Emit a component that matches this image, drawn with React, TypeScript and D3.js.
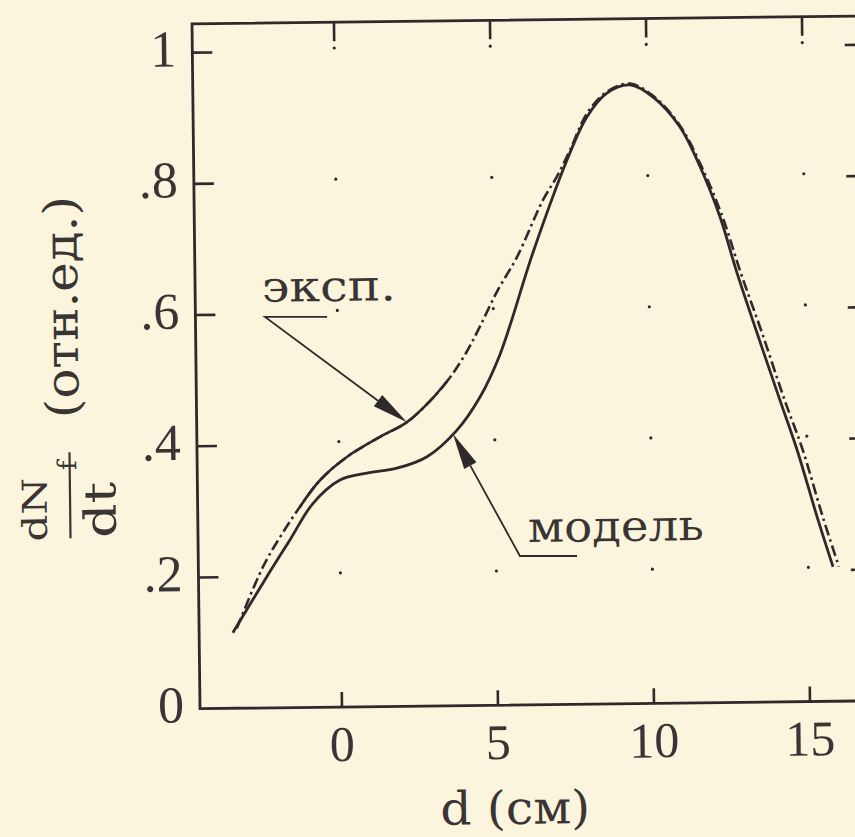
import React, { useEffect, useRef } from 'react';
import * as d3 from 'd3';

// axis ticks
const xTicks = [0, 5, 10, 15];
const xTickLabels = ['0', '5', '10', '15'];
const yTicks = [0.2, 0.4, 0.6, 0.8, 1];
const yTickLabels = ['.2', '.4', '.6', '.8', '1'];

// "эксп." curve (dash-dot, drawn solid in the middle part)
const expX = [-3.34, -2.48, -1.92, -1.27, -0.62, 0.25, 1.32, 2.19, 2.94, 3.58, 4.14, 4.57, 5.12, 5.78, 6.63, 7.09, 7.52, 8.07, 8.72, 9.46, 10.2, 11.05, 11.72, 12.38, 12.94, 13.6, 14.3, 14.86, 15.48, 15.98];
const expY = [0.122, 0.215, 0.26, 0.306, 0.346, 0.381, 0.411, 0.433, 0.465, 0.5, 0.54, 0.578, 0.63, 0.683, 0.769, 0.805, 0.845, 0.9, 0.933, 0.945, 0.926, 0.88, 0.818, 0.74, 0.655, 0.563, 0.46, 0.384, 0.281, 0.205];

// "модель" curve (solid)
const modelX = [-3.47, -2.36, -1.6, -0.85, 0.02, 0.89, 1.85, 2.82, 3.79, 4.54, 5.2, 6.29, 7.42, 8.07, 8.72, 9.46, 10.2, 11.05, 11.68, 12.3, 12.82, 13.44, 14.15, 14.68, 15.3, 15.79];
const modelY = [0.115, 0.2, 0.256, 0.311, 0.346, 0.356, 0.363, 0.38, 0.42, 0.47, 0.535, 0.689, 0.83, 0.895, 0.931, 0.943, 0.924, 0.878, 0.817, 0.74, 0.655, 0.563, 0.46, 0.384, 0.281, 0.205];

const W = 855;
const H = 837;
const ink = '#2e2a2c';
const textInk = '#3a3535';

export default function App() {
  const ref = useRef<SVGSVGElement>(null);

  useEffect(() => {
    const svg = d3.select(ref.current);
    svg.selectAll('*').remove();
    svg.attr('width', W).attr('height', H);

    svg.append('rect').attr('width', W).attr('height', H).attr('fill', '#faf5dc');

    // the scanned page is slightly tilted
    const g = svg.append('g').attr('transform', 'rotate(-0.67, 342, 707)');

    const x = d3.scaleLinear().domain([-4.55, 17]).range([200, 872.4]);
    const y = d3.scaleLinear().domain([0, 1.044]).range([707, 22.1]);

    const [x0, x1] = x.domain();
    const [y0, y1] = y.domain();

    // grid dots
    xTicks.forEach(tx => {
      yTicks.forEach(ty => {
        g.append('circle')
          .attr('cx', x(tx)).attr('cy', y(ty) - 3)
          .attr('r', 1.6).attr('fill', ink);
      });
    });

    // frame
    g.append('rect')
      .attr('x', x(x0)).attr('y', y(y1))
      .attr('width', x(x1) - x(x0)).attr('height', y(y0) - y(y1))
      .attr('fill', 'none').attr('stroke', ink).attr('stroke-width', 2.8);

    // ticks
    xTicks.forEach(tx => {
      g.append('line').attr('x1', x(tx)).attr('x2', x(tx))
        .attr('y1', y(0)).attr('y2', y(0) - 15)
        .attr('stroke', ink).attr('stroke-width', 2.6);
      g.append('line').attr('x1', x(tx)).attr('x2', x(tx))
        .attr('y1', y(y1)).attr('y2', y(y1) + 19)
        .attr('stroke', ink).attr('stroke-width', 2.6);
    });
    yTicks.forEach(ty => {
      g.append('line').attr('x1', x(x0)).attr('x2', x(x0) + 20)
        .attr('y1', y(ty)).attr('y2', y(ty))
        .attr('stroke', ink).attr('stroke-width', 2.6);
      g.append('line').attr('x1', x(x1)).attr('x2', x(x1) - 20)
        .attr('y1', y(ty)).attr('y2', y(ty))
        .attr('stroke', ink).attr('stroke-width', 2.6);
    });

    // tick labels
    g.selectAll('.ylab')
      .data(yTicks.map((v, i) => ({ v, t: yTickLabels[i] })).concat([{ v: 0, t: '0' }]))
      .enter().append('text')
      .attr('x', x(x0) - 16)
      .attr('y', d => y(d.v) - 4)
      .attr('dominant-baseline', 'central')
      .attr('text-anchor', 'end')
      .attr('font-family', '"Liberation Serif", serif')
      .attr('font-size', 52)
      .attr('fill', textInk)
      .text(d => d.t);

    g.selectAll('.xlab')
      .data(xTicks)
      .enter().append('text')
      .attr('x', d => x(d))
      .attr('y', y(0) + 54)
      .attr('text-anchor', 'middle')
      .attr('font-family', '"Liberation Serif", serif')
      .attr('font-size', 50)
      .attr('fill', textInk)
      .text((d, i) => xTickLabels[i]);

    // axis titles
    g.append('text')
      .attr('x', 514).attr('y', 826)
      .attr('text-anchor', 'middle')
      .attr('font-family', '"DejaVu Serif", serif')
      .attr('font-size', 46)
      .attr('textLength', 150)
      .attr('lengthAdjust', 'spacingAndGlyphs')
      .attr('fill', textInk)
      .text('d (см)');

    const yt = g.append('g').attr('font-family', '"DejaVu Serif", serif').attr('fill', textInk);
    yt.append('text')
      .attr('transform', 'translate(82, 304) rotate(-90)')
      .attr('text-anchor', 'middle')
      .attr('font-size', 46)
      .attr('textLength', 222)
      .attr('lengthAdjust', 'spacingAndGlyphs')
      .text('(отн.ед.)');
    yt.append('text')
      .attr('transform', 'translate(49, 506) rotate(-90)')
      .attr('text-anchor', 'middle')
      .attr('font-size', 34)
      .attr('textLength', 64)
      .attr('lengthAdjust', 'spacingAndGlyphs')
      .text('dN');
    yt.append('text')
      .attr('transform', 'translate(79, 462) rotate(-90)')
      .attr('text-anchor', 'middle')
      .attr('font-size', 26)
      .text('f');
    yt.append('line')
      .attr('x1', 72.5).attr('x2', 72.5).attr('y1', 449).attr('y2', 535)
      .attr('stroke', textInk).attr('stroke-width', 2.2);
    yt.append('text')
      .attr('transform', 'translate(118, 507) rotate(-90)')
      .attr('text-anchor', 'middle')
      .attr('font-size', 44)
      .attr('textLength', 56)
      .attr('lengthAdjust', 'spacingAndGlyphs')
      .text('dt');

    // curves
    const expData = expX.map((v, i) => [v, expY[i]] as [number, number]);
    const modelData = modelX.map((v, i) => [v, modelY[i]] as [number, number]);

    const line = d3.line<[number, number]>()
      .x(d => x(d[0]))
      .y(d => y(d[1]))
      .curve(d3.curveCatmullRom.alpha(0.5));

    g.append('path').attr('d', line(modelData))
      .attr('fill', 'none').attr('stroke', ink).attr('stroke-width', 2.8);

    g.append('path').attr('d', line(expData))
      .attr('fill', 'none').attr('stroke', ink).attr('stroke-width', 2.6)
      .attr('stroke-dasharray', '11 4 2.5 4');

    g.append('path').attr('d', line(expData.filter(d => d[0] >= -1.3 && d[0] <= 3.6)))
      .attr('fill', 'none').attr('stroke', ink).attr('stroke-width', 2.6);

    // annotations with arrows
    const notes = [
      { text: 'эксп.', label: [-2.41, 0.619], width: 134, end: [-0.33, 0.595], elbow: [-2.32, 0.596], tip: expData[7] },
      { text: 'модель', label: [6.02, 0.248], width: 176, end: [7.59, 0.226], elbow: [5.76, 0.227], tip: [3.66, 0.414] },
    ];

    notes.forEach(n => {
      const tx = x(n.tip[0]);
      const ty = y(n.tip[1]);
      const ex = x(n.elbow[0]);
      const ey = y(n.elbow[1]);
      const len = Math.hypot(tx - ex, ty - ey);
      const ux = (tx - ex) / len;
      const uy = (ty - ey) / len;
      const headL = 36;
      const headW = 7;
      const bx = tx - ux * headL;
      const by = ty - uy * headL;

      g.append('polyline')
        .attr('points', `${x(n.end[0])},${y(n.end[1])} ${ex},${ey} ${bx},${by}`)
        .attr('fill', 'none').attr('stroke', ink).attr('stroke-width', 1.8);

      g.append('path')
        .attr('d', `M${tx},${ty} L${bx - uy * headW},${by + ux * headW} L${bx + uy * headW},${by - ux * headW} Z`)
        .attr('fill', ink);

      g.append('text')
        .attr('x', x(n.label[0])).attr('y', y(n.label[1]))
        .attr('font-family', '"DejaVu Serif", serif')
        .attr('font-size', 43)
        .attr('textLength', n.width)
        .attr('lengthAdjust', 'spacingAndGlyphs')
        .attr('fill', textInk)
        .text(n.text);
    });
  }, []);

  return <svg ref={ref} style={{ position: 'absolute', left: 0, top: 0, display: 'block' }} />;
}
